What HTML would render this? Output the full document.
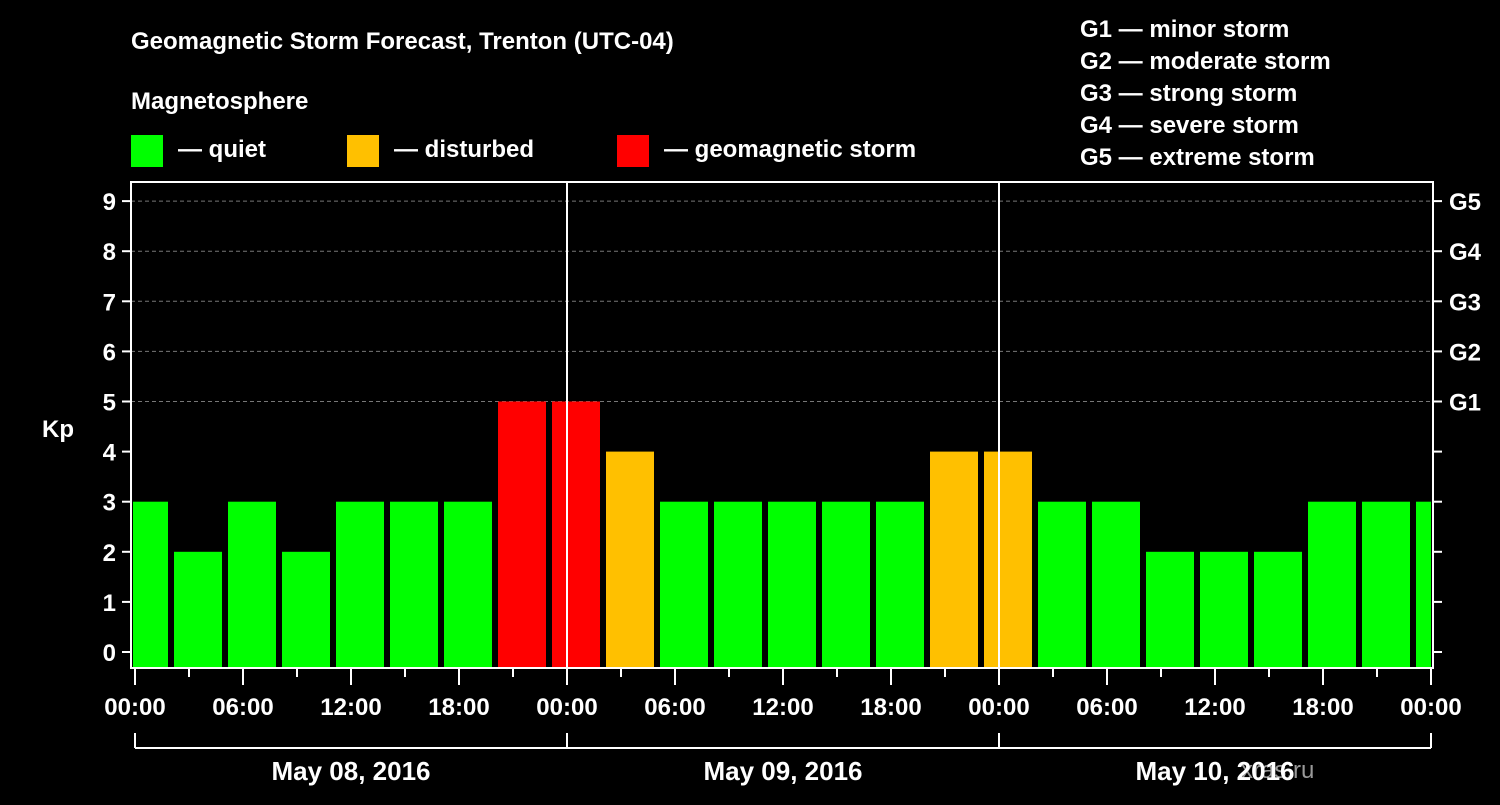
<!DOCTYPE html>
<html><head><meta charset="utf-8"><style>
body{margin:0;background:#000;width:1500px;height:800px;overflow:hidden}
svg text{font-family:"Liberation Sans",Arial,sans-serif;font-weight:bold;fill:#fff}
</style></head><body>
<svg id="chart" width="1500" height="800" xmlns="http://www.w3.org/2000/svg">
<text x="131" y="49" font-size="24">Geomagnetic Storm Forecast, Trenton (UTC-04)</text>
<text x="131" y="109" font-size="24">Magnetosphere</text>
<g>
<rect x="131" y="135" width="32" height="32" fill="#00ff00"/>
<text x="178" y="157" font-size="24">— quiet</text>
<rect x="347" y="135" width="32" height="32" fill="#ffc000"/>
<text x="394" y="157" font-size="24">— disturbed</text>
<rect x="617" y="135" width="32" height="32" fill="#ff0000"/>
<text x="664" y="157" font-size="24">— geomagnetic storm</text>
</g>
<g font-size="24">
<text x="1080" y="37">G1 — minor storm</text>
<text x="1080" y="69">G2 — moderate storm</text>
<text x="1080" y="101">G3 — strong storm</text>
<text x="1080" y="133">G4 — severe storm</text>
<text x="1080" y="165">G5 — extreme storm</text>
</g>
<text x="42" y="437" font-size="24">Kp</text>
<text x="1241" y="778" font-size="24" fill="#888" style="fill:#999;font-weight:normal">xras.ru</text>
<defs><clipPath id="pc"><rect x="133" y="182" width="1298" height="486"/></clipPath></defs>
<g id="grid"></g>
<g id="bars" clip-path="url(#pc)"></g>
<g id="axes"></g>
</svg>
<script>
const values=[3,2,3,2,3,3,3,5,5,4,3,3,3,3,3,4,4,3,3,2,2,2,3,3,3];
const hoursStart=0.5; const hoursStep=3;
const yTicks=[0,1,2,3,4,5,6,7,8,9];
const gLabels=["G1","G2","G3","G4","G5"];
const xTickLabels=["00:00","06:00","12:00","18:00","00:00","06:00","12:00","18:00","00:00","06:00","12:00","18:00","00:00"];
const dayLabels=["May 08, 2016","May 09, 2016","May 10, 2016"];
const NS="http://www.w3.org/2000/svg";
const X0=135,PXH=18,Y0=652,PXK=50.1,LEFT=131,RIGHT=1433,TOP=182,BOT=668;
const x=h=>X0+h*PXH, y=k=>Y0-k*PXK;
function mk(tag,at,parent){const e=document.createElementNS(NS,tag);for(const k in at)e.setAttribute(k,at[k]);parent.appendChild(e);return e;}
const grid=document.getElementById('grid'),bars=document.getElementById('bars'),axes=document.getElementById('axes');
function col(v){return v>=5?"#ff0000":v>=4?"#ffc000":"#00ff00";}
yTicks.forEach(k=>{if(k>=5){const l=mk('line',{x1:LEFT,x2:RIGHT,y1:y(k),y2:y(k),stroke:'#777','stroke-dasharray':'4,3','stroke-width':1},grid);

}});
values.forEach((v,i)=>{const c=hoursStart+i*hoursStep;const r=mk('rect',{x:x(c)-24,y:y(v),width:48,height:BOT-y(v),fill:col(v)},bars);

});
// day separators
[24,48].forEach(h=>{const l=mk('line',{x1:x(h),x2:x(h),y1:TOP,y2:BOT,stroke:'#fff','stroke-width':2},axes);

});
const fr=mk('rect',{x:LEFT,y:TOP,width:RIGHT-LEFT,height:BOT-TOP,fill:'none',stroke:'#fff','stroke-width':2},axes);


yTicks.forEach(k=>{mk('line',{x1:122,x2:LEFT,y1:y(k),y2:y(k),stroke:'#fff','stroke-width':2},axes);
mk('line',{x1:RIGHT,x2:1442,y1:y(k),y2:y(k),stroke:'#fff','stroke-width':2},axes);
const t=mk('text',{x:116,y:y(k)+9,'font-size':24,'text-anchor':'end'},axes);t.textContent=k;

});
gLabels.forEach((g,i)=>{const t=mk('text',{x:1449,y:y(5+i)+9,'font-size':24},axes);t.textContent=g;

});
for(let h=0;h<=72;h+=3){mk('line',{x1:x(h),x2:x(h),y1:BOT,y2:h%6===0?685:677,stroke:'#fff','stroke-width':2},axes);}
xTickLabels.forEach((s,i)=>{const t=mk('text',{x:x(i*6),y:715,'font-size':24,'text-anchor':'middle'},axes);t.textContent=s;

});
mk('line',{x1:x(0),x2:x(72),y1:748,y2:748,stroke:'#fff','stroke-width':2},axes);
[0,24,48,72].forEach(h=>mk('line',{x1:x(h),x2:x(h),y1:733,y2:748,stroke:'#fff','stroke-width':2},axes));
dayLabels.forEach((s,i)=>{const t=mk('text',{x:x(i*24+12),y:780,'font-size':26,'text-anchor':'middle'},axes);t.textContent=s;

});
</script>
</body></html>
